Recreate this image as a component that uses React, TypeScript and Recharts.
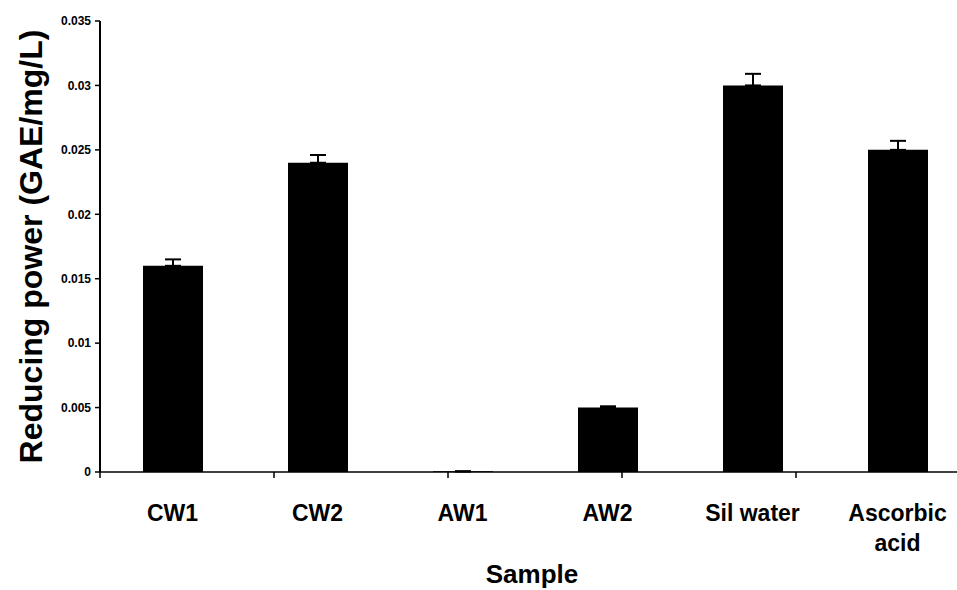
import React from 'react';
import { BarChart, Bar, XAxis, YAxis, ErrorBar } from 'recharts';

const categories = ['CW1', 'CW2', 'AW1', 'AW2', 'Sil water', 'Ascorbic\nacid'];
const values = [0.016, 0.024, 0.00005, 0.005, 0.030, 0.025];
const errors = [0.0005, 0.0006, 0, 0.0001, 0.0009, 0.0007];
const yTicks = [0, 0.005, 0.01, 0.015, 0.02, 0.025, 0.03, 0.035];
const boundaryTicks = [0, 1, 2, 3, 4, 5, 6];
const yLabel = 'Reducing power (GAE/mg/L)';
const xLabel = 'Sample';

const data = categories.map((c, i) => ({ name: c, value: values[i], err: [0, errors[i]] }));

const FONT = '"Liberation Sans", Arial, Helvetica, sans-serif';

const CatTick = (props: any) => {
  const { x, y, payload } = props;
  const lines = String(payload.value).split('\n');
  return (
    <text x={x} y={y} textAnchor="middle" fontFamily={FONT} fontSize={23} fontWeight="bold" fill="#000">
      {lines.map((l, i) => (
        <tspan key={i} x={x} dy={i === 0 ? 48 : 30}>{l}</tspan>
      ))}
    </text>
  );
};

const EmptyTick = () => <g />;

const YLabel = (props: any) => {
  const vb = props.viewBox || {};
  const cx = 31;
  const cy = vb.y + vb.height / 2;
  return (
    <text x={cx} y={cy} transform={`rotate(-90, ${cx}, ${cy})`} textAnchor="middle" dominantBaseline="central"
      fontFamily={FONT} fontSize={32} fontWeight="bold" fill="#000">{yLabel}</text>
  );
};

const XLabel = (props: any) => {
  const vb = props.viewBox || {};
  const cx = vb.x + vb.width / 2 - 3;
  return (
    <text x={cx} y={583} textAnchor="middle" fontFamily={FONT} fontSize={26} fontWeight="bold" fill="#000">{xLabel}</text>
  );
};

export default function App() {
  return (
    <div style={{ position: 'absolute', left: 0, top: 0, width: 957, height: 590, overflow: 'hidden', background: '#fff' }}>
      <BarChart width={980} height={590} data={data} margin={{ top: 21, right: 10, left: 0, bottom: 0 }} barCategoryGap={0}>
        <XAxis xAxisId="bounds" type="number" domain={[0, 6]} ticks={boundaryTicks} tick={<EmptyTick />}
          tickFormatter={() => ''} interval={0}
          tickSize={6} height={1} axisLine={{ stroke: '#000', strokeWidth: 1.5 }}
          tickLine={{ stroke: '#000', strokeWidth: 1.5 }} allowDataOverflow />
        <XAxis xAxisId="cat" dataKey="name" type="category" height={117} tickLine={false} tickSize={0} tickMargin={0}
          axisLine={false} tick={<CatTick />} interval={0} label={<XLabel />} />
        <YAxis domain={[0, 0.035]} ticks={yTicks} width={100} tickSize={5} tickMargin={4}
          tickFormatter={(v: number) => String(v)}
          tick={{ fontFamily: FONT, fontSize: 12, fontWeight: 'bold', fill: '#000' }}
          axisLine={{ stroke: '#000', strokeWidth: 2 }} tickLine={{ stroke: '#000', strokeWidth: 1.5 }}
          label={<YLabel />} allowDataOverflow />
        <Bar xAxisId="cat" dataKey="value" fill="#000" barSize={60} isAnimationActive={false}>
          <ErrorBar dataKey="err" width={8} stroke="#000" strokeWidth={2} direction="y" />
        </Bar>
      </BarChart>
    </div>
  );
}
